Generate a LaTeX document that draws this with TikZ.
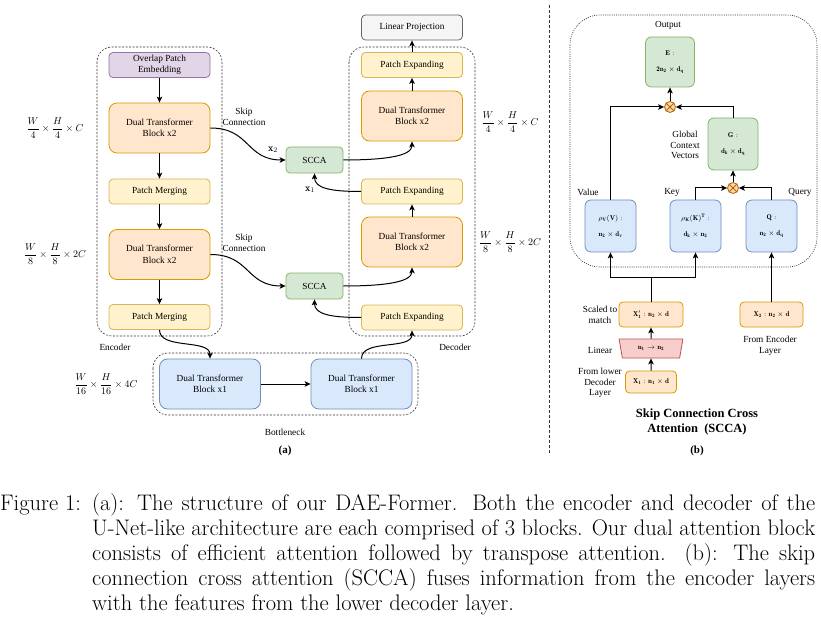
\documentclass[tikz,border=0pt]{standalone}
\usepackage{fontspec}
\usepackage{amsmath}
\usepackage{amssymb}
\usetikzlibrary{arrows.meta,shapes.geometric}
\newfontfamily\tnr{Liberation Serif}

\definecolor{purpfill}{HTML}{E1D5E7}
\definecolor{purpline}{HTML}{9673A6}
\definecolor{orfill}{HTML}{FFE6CC}
\definecolor{orline}{HTML}{D79B00}
\definecolor{yelfill}{HTML}{FFF2CC}
\definecolor{yelline}{HTML}{D6B656}
\definecolor{bluefill}{HTML}{DAE8FC}
\definecolor{blueline}{HTML}{6C8EBF}
\definecolor{grnfill}{HTML}{D5E8D4}
\definecolor{grnline}{HTML}{82B366}
\definecolor{greyfill}{HTML}{F5F5F5}
\definecolor{greyline}{HTML}{666666}
\definecolor{redfill}{HTML}{F8CECC}
\definecolor{redline}{HTML}{B85450}
\definecolor{mulfill}{HTML}{FAD7AC}
\definecolor{mulline}{HTML}{B46504}

\tikzset{
  box/.style={draw, rounded corners=4pt, minimum width=101pt, minimum height=25pt,
    inner sep=0pt, align=center, line width=0.8pt, font=\tnr\fontsize{9.3}{11.5}\selectfont},
  bigbox/.style={box, minimum height=50pt, rounded corners=8pt},
  embed/.style={box, fill=purpfill, draw=purpline},
  dtb/.style={bigbox, fill=orfill, draw=orline},
  patchbox/.style={box, fill=yelfill, draw=yelline},
  bneck/.style={bigbox, fill=bluefill, draw=blueline},
  proj/.style={box, fill=greyfill, draw=greyline},
  scca/.style={box, minimum width=57pt, minimum height=26pt, fill=grnfill, draw=grnline},
  group/.style={draw=black!80, dash pattern=on 2pt off 1.5pt, rounded corners=15pt, line width=0.6pt},
  lbl/.style={font=\tnr\fontsize{9.3}{10.5}\selectfont, align=center, inner sep=0pt},
  dimlbl/.style={font=\fontsize{10}{12}\selectfont, inner sep=0pt},
  arr/.style={-{Stealth[length=6pt,width=5.5pt,inset=1.5pt]}, line width=1pt},
  % panel (b)
  sbox/.style={draw, rounded corners=6pt, align=center, inner sep=0pt, line width=0.8pt,
    font=\fontsize{7}{16}\selectfont},
  gbox/.style={sbox, fill=grnfill, draw=grnline},
  qkv/.style={sbox, fill=bluefill, draw=blueline, minimum width=51pt, minimum height=52pt},
  xbox/.style={sbox, rounded corners=4pt, fill=orfill, draw=orline, font=\fontsize{7}{8}\selectfont},
  trap/.style={trapezium, trapezium angle=70, trapezium stretches=true, shape border rotate=180,
    minimum width=64pt, minimum height=19pt, inner sep=0pt, fill=redfill, draw=redline,
    line width=0.8pt, font=\fontsize{7}{8}\selectfont},
  mul/.style={circle, draw=mulline, fill=mulfill, minimum size=11pt, inner sep=0pt, line width=0.8pt},
  capfont/.style={font=\fontsize{22.5}{25}\selectfont, inner sep=0pt}
}

\begin{document}
\begin{tikzpicture}[x=1pt,y=1pt]
\useasboundingbox (0,0) rectangle (821,622);

% ---------------- (a) ----------------
% dashed groups
\draw[group] (97,575) rectangle (222,286);
\draw[group] (349,575) rectangle (475,286);
\draw[group] (153,269) rectangle (418,207);
\node[lbl] (enclbl) at (115,275) {Encoder};
\node[lbl] (declbl) at (455,275) {Decoder};
\node[lbl] (bnlbl) at (285,190) {Bottleneck};

% encoder
\node[embed] (embed) at (159.5,557) {Overlap Patch\\Embedding};
\node[dtb] (enc1) at (159.5,494) {Dual Transformer\\Block x2};
\node[patchbox] (pm1) at (159.5,430.5) {Patch Merging};
\node[dtb] (enc2) at (159.5,367.5) {Dual Transformer\\Block x2};
\node[patchbox] (pm2) at (159.5,305) {Patch Merging};

% bottleneck
\node[bneck] (bn1) at (210,238) {Dual Transformer\\Block x1};
\node[bneck] (bn2) at (361.5,238) {Dual Transformer\\Block x1};

% decoder
\node[proj] (linproj) at (412,594.5) {Linear Projection};
\node[patchbox] (pe1) at (412,557) {Patch Expanding};
\node[dtb] (dec1) at (412,506) {Dual Transformer\\Block x2};
\node[patchbox] (pe2) at (412,430.5) {Patch Expanding};
\node[dtb] (dec2) at (412,380) {Dual Transformer\\Block x2};
\node[patchbox] (pe3) at (412,304.5) {Patch Expanding};

% skip connections
\node[scca] (scca1) at (314.5,462) {SCCA};
\node[scca] (scca2) at (314.5,336) {SCCA};
\node[lbl] (skip1) at (244,505) {Skip\\Connection};
\node[lbl] (skip2) at (244,379) {Skip\\Connection};
\node[dimlbl] (xtwo) at (273,472) {$\mathbf{x}_2$};
\node[dimlbl] (xone) at (310,432) {$\mathbf{x}_1$};

% sizes
\node[dimlbl] (dim1) at (55,494) {$\dfrac{W}{4}\times\dfrac{H}{4}\times C$};
\node[dimlbl] (dim2) at (55,368) {$\dfrac{W}{8}\times\dfrac{H}{8}\times 2C$};
\node[dimlbl] (dim3) at (106,238) {$\dfrac{W}{16}\times\dfrac{H}{16}\times 4C$};
\node[dimlbl] (dim4) at (510,500) {$\dfrac{W}{4}\times\dfrac{H}{4}\times C$};
\node[dimlbl] (dim5) at (510,380) {$\dfrac{W}{8}\times\dfrac{H}{8}\times 2C$};

% arrows
\draw[arr] (embed.south) -- (enc1.north);
\draw[arr] (enc1.south) -- (pm1.north);
\draw[arr] (pm1.south) -- (enc2.north);
\draw[arr] (enc2.south) -- (pm2.north);
\draw[arr] (pm2.south) to[out=-90,in=90,out distance=20pt,in distance=20pt] (bn1.north);
\draw[arr] (bn1.east) -- (bn2.west);
\draw[arr] (bn2.north) to[out=90,in=-90,out distance=20pt,in distance=20pt] (pe3.south);
\draw[arr] (enc1.east) to[out=0,in=180,out distance=40pt,in distance=40pt] (scca1.west);
\draw[arr] (enc2.east) to[out=0,in=180,out distance=40pt,in distance=40pt] (scca2.west);
\draw[arr] (pe2.west) to[out=180,in=-90,out distance=30pt,in distance=15pt] (scca1.south);
\draw[arr] (pe3.west) to[out=180,in=-90,out distance=30pt,in distance=15pt] (scca2.south);
\draw[arr] (scca1.east) to[out=0,in=-90,out distance=40pt,in distance=15pt] (dec1.south);
\draw[arr] (scca2.east) to[out=0,in=-90,out distance=40pt,in distance=15pt] (dec2.south);
\draw[arr] (dec2.north) -- (pe2.south);
\draw[arr] (dec1.north) -- (pe1.south);
\draw[arr] (pe1.north) -- (linproj.south);

\node[font=\tnr\bfseries\fontsize{11}{13}\selectfont, inner sep=0pt] (taga) at (285,171) {(a)};

% separator
\draw[line width=1pt, dash pattern=on 3pt off 2pt, black!80] (549,617) -- (549,167);

% ---------------- (b) ----------------
\draw[draw=black!80, dash pattern=on 1pt off 1.2pt, rounded corners=30pt, line width=0.6pt]
  (570,607) rectangle (817,355);
\node[lbl] (outlbl) at (668,597) {Output};

\node[gbox, minimum width=49pt, minimum height=50pt] (ebox) at (670,560)
  {$\mathbf{E:}$\\$\mathbf{2n_2\times d_q}$};
\node[mul] (m1) at (670,515) {};
\draw[mulline, line width=0.8pt] (m1.45) -- (m1.225) (m1.135) -- (m1.-45);
\node[gbox, minimum width=50pt, minimum height=52pt] (gbox) at (733,478)
  {$\mathbf{G:}$\\$\mathbf{d_k\times d_q}$};
\node[lbl] (gcv) at (685,477) {Global\\Context\\Vectors};
\node[mul] (m2) at (733,434) {};
\draw[mulline, line width=0.8pt] (m2.45) -- (m2.225) (m2.135) -- (m2.-45);

\node[qkv] (vbox) at (610.5,396) {$\rho_{\mathbf{V}}(\mathbf{V}):$\\$\mathbf{n_2\times d_v}$};
\node[qkv] (kbox) at (695.5,396) {$\rho_{\mathbf{K}}(\mathbf{K})^{\mathbf{T}}:$\\$\mathbf{d_k\times n_2}$};
\node[qkv] (qbox) at (771.5,396) {$\mathbf{Q:}$\\$\mathbf{n_2\times d_q}$};
\node[lbl] (vlbl) at (588,430) {Value};
\node[lbl] (klbl) at (672,430) {Key};
\node[lbl] (qlbl) at (800,430) {Query};

\node[xbox, minimum width=64pt, minimum height=25pt] (x1p) at (651,307.5) {$\mathbf{X_1'}:\mathbf{n_2\times d}$};
\node[trap] (lin) at (651,273.5) {$\mathbf{n_1}\rightarrow\mathbf{n_2}$};
\node[xbox, minimum width=51pt, minimum height=22pt] (x1box) at (651,240) {$\mathbf{X_1}:\mathbf{n_1\times d}$};
\node[xbox, minimum width=63pt, minimum height=25pt] (x2box) at (771.5,307.5) {$\mathbf{X_2}:\mathbf{n_2\times d}$};

\node[lbl] (scaled) at (600,307) {Scaled to\\match};
\node[lbl] (linlbl) at (600,272) {Linear};
\node[lbl] (lower) at (600,239) {From lower\\Decoder\\Layer};
\node[lbl] (fromenc) at (770,276) {From Encoder\\Layer};

\coordinate (split) at (651,345);
\draw[arr] (x1box) -- (lin);
\draw[arr] (lin) -- (x1p);
\draw[line width=1pt] (x1p.north) -- (split);
\draw[arr] (split) -| (vbox.south);
\draw[arr] (split) -| (kbox.south);
\draw[arr] (x2box.north) -- (qbox.south);
\draw[arr] (kbox.north) |- (m2.west);
\draw[arr] (qbox.north) |- (m2.east);
\draw[arr] (m2.north) -- (gbox.south);
\draw[arr] (vbox.north) |- (m1.west);
\draw[arr] (gbox.north) |- (m1.east);
\draw[arr] (m1.north) -- (ebox.south);

\node[font=\tnr\bfseries\fontsize{12.5}{15}\selectfont, align=center, inner sep=0pt] (title) at (697,200)
  {Skip Connection Cross\\Attention~~(SCCA)};
\node[font=\tnr\bfseries\fontsize{11}{13}\selectfont, inner sep=0pt] (tagb) at (697,171) {(b)};

% ---------------- caption ----------------
\node[capfont, anchor=north west] (figno) at (0,129.5) {\strut Figure 1:};
\node[capfont, anchor=north west, text width=723pt, align=justify] (captext) at (92,129.5)
  {\strut (a): The structure of our DAE-Former. Both the encoder and decoder of the\linebreak
  U-Net-like architecture are each comprised of 3 blocks. Our dual attention block\linebreak
  consists of efficient attention followed by transpose attention. (b): The skip\linebreak
  connection cross attention (SCCA) fuses information from the encoder layers\linebreak
  with the features from the lower decoder layer.};
\end{tikzpicture}
\end{document}
